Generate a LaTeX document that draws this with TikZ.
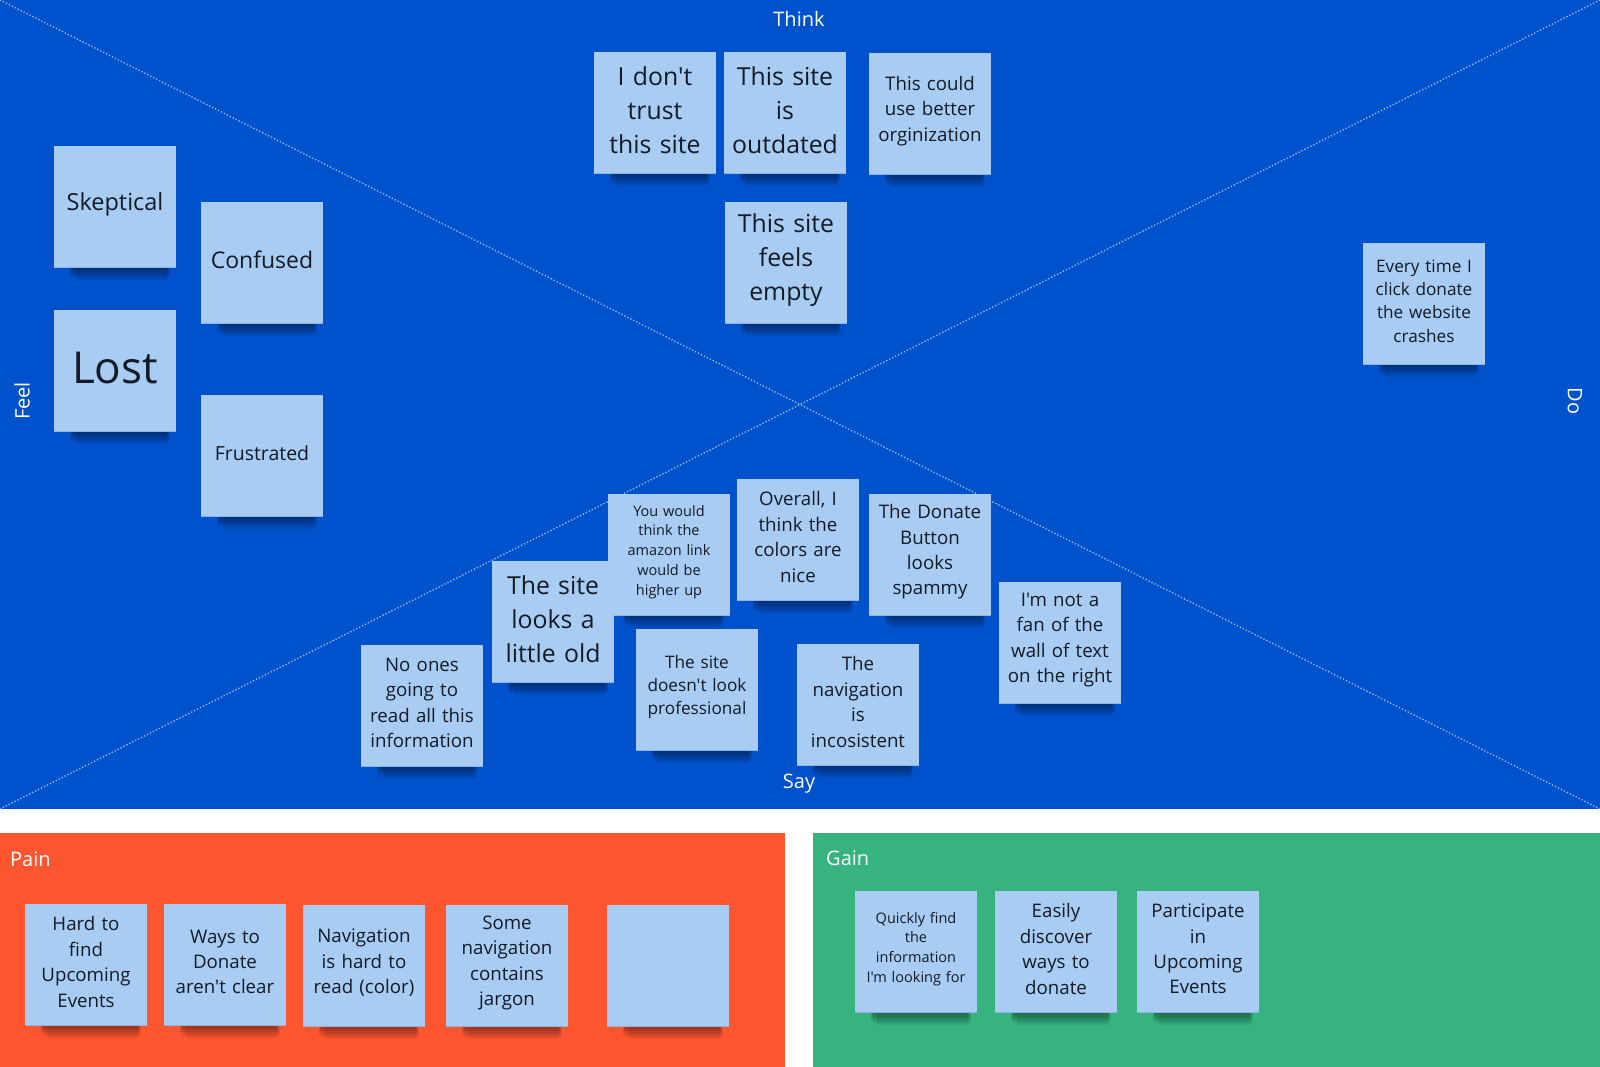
\documentclass[tikz,border=0pt]{standalone}
\usepackage{fontspec}
\setmainfont{Open Sans}[Ligatures=TeXOff]
\definecolor{bgblue}{HTML}{0052CC}
\definecolor{painred}{HTML}{FF5630}
\definecolor{gaingreen}{HTML}{36B37E}
\definecolor{stickyfill}{HTML}{A9CCF3}
\definecolor{stickyedge}{HTML}{8FB3E0}
\definecolor{stickytext}{HTML}{141a26}
\definecolor{dotline}{HTML}{9CC2F0}
\newcommand{\fs}[2]{\fontsize{#1}{#2}\selectfont}
\tikzset{
  stickybox/.style={fill=stickyfill, minimum width=122pt, minimum height=122pt, inner sep=0pt},
  stickytxt/.style={inner sep=0pt, align=center, text=stickytext, text width=118pt},
  shadowlayer/.style={fill=black, opacity=0.075},
  smallt/.style={font=\fs{14.5}{19.8}},
  midt/.style={font=\fs{18.7}{25.4}},
  medt/.style={font=\fs{17.2}{23.4}},
  bigt/.style={font=\fs{24.8}{33.8}},
  zonelabel/.style={text=white, font=\fs{20}{24}, inner sep=0pt},
  diag/.style={draw=dotline, dotted, line width=1.3pt}
}
\newcommand{\stkshadow}[2]{%
  \foreach \k/\l/\r in {2/18/9, 4/17/8, 6/16/7, 8/16/6, 10/18/7, 12/22/9}{
    \fill[shadowlayer] ({#1-61+\l},{#2+50}) rectangle ({#1+61-\r},{#2+61+\k});
  }}
\newcommand{\stk}[5]{%
  \stkshadow{#2}{#3}
  \node[stickybox] (#1) at (#2,#3) {};
  \draw[stickyedge, line width=0.8pt] ([yshift=0.4pt]#1.south west) -- ([yshift=0.4pt]#1.south east);
  \node[stickytxt,#4] (#1t) at ([yshift=3pt]#1.center) {#5};}
\begin{document}
\begin{tikzpicture}[x=1pt,y=-1pt]
\useasboundingbox (0,0) rectangle (1600,1067);
% zones
\fill[bgblue] (0,0) rectangle (1600,809);
\fill[painred] (0,833) rectangle (785,1067);
\fill[gaingreen] (813,833) rectangle (1600,1067);
% diagonals
\coordinate (tl) at (0,0);
\coordinate (tr) at (1600,0);
\coordinate (bl) at (0,809);
\coordinate (br) at (1600,809);
\draw[diag] (tl) -- (br);
\draw[diag] (tr) -- (bl);
% zone labels
\node[zonelabel] (think) at (799,19) {Think};
\node[zonelabel] (say) at (799,784) {Say};
\node[zonelabel, rotate=90] (feel) at (22,401) {Feel};
\node[zonelabel, rotate=-90] (do) at (1575,401) {Do};
\node[zonelabel, anchor=west] (pain) at (10,859) {Pain};
\node[zonelabel, anchor=west] (gain) at (826,858) {Gain};
% think
\stk{s1}{655}{113}{bigt}{I don't\\trust\\this site}
\stk{s2}{785}{113}{bigt}{This site\\is\\outdated}
\stk{s3}{930}{114}{midt}{This could\\use better\\orginization}
\stk{s4}{786}{263}{bigt}{This site\\feels\\empty}
% feel
\stk{s5}{115}{207}{font=\fs{23.5}{30}}{Skeptical}
\stk{s6}{262}{263}{font=\fs{23}{30}}{Confused}
\stk{s7}{115}{371}{font=\fs{44}{56}}{Lost}
\stk{s8}{262}{456}{font=\fs{19.5}{26}}{Frustrated}
% do
\stk{s9}{1424}{304}{medt}{Every time I\\click donate\\the website\\crashes}
% say
\stk{s10}{669}{555}{smallt}{You would\\think the\\amazon link\\would be\\higher up}
\stk{s11}{798}{540}{midt}{Overall, I\\think the\\colors are\\nice}
\stk{s12}{930}{555}{midt}{The Donate\\Button\\looks\\spammy}
\stk{s13}{553}{622}{bigt}{The site\\looks a\\little old}
\stk{s14}{1060}{643}{midt}{I'm not a\\fan of the\\wall of text\\on the right}
\stk{s15}{697}{690}{medt}{The site\\doesn't look\\professional}
\stk{s16}{858}{705}{midt}{The\\navigation\\is\\incosistent}
\stk{s17}{422}{706}{midt}{No ones\\going to\\read all this\\information}
% pain
\stk{p1}{86}{965}{midt}{Hard to\\find\\Upcoming\\Events}
\stk{p2}{225}{965}{midt}{Ways to\\Donate\\aren't clear}
\stk{p3}{364}{966}{midt}{Navigation\\is hard to\\read (color)}
\stk{p4}{507}{966}{midt}{Some\\navigation\\contains\\jargon}
\stkshadow{668}{966}
\node[stickybox] (p5) at (668,966) {};
\draw[stickyedge, line width=0.8pt] ([yshift=0.4pt]p5.south west) -- ([yshift=0.4pt]p5.south east);
% gain
\stk{g1}{916}{952}{smallt}{Quickly find\\the\\information\\I'm looking for}
\stk{g2}{1056}{952}{midt}{Easily\\discover\\ways to\\donate}
\stk{g3}{1198}{952}{midt}{Participate\\in\\Upcoming\\Events}
\end{tikzpicture}
\end{document}
